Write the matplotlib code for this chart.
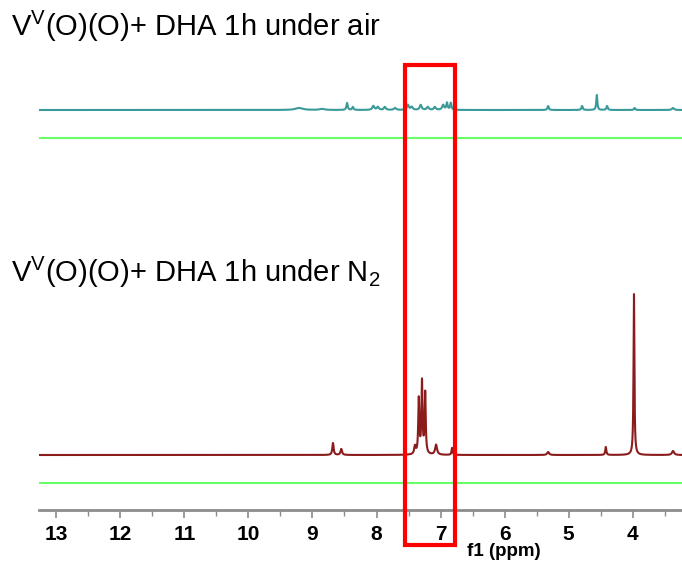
import numpy as np
import matplotlib
matplotlib.use('Agg')
import matplotlib.pyplot as plt
from matplotlib.patches import Rectangle
from matplotlib.ticker import MultipleLocator

plt.rcParams['font.family'] = ['Liberation Sans', 'DejaVu Sans']
plt.rcParams['mathtext.fontset'] = 'custom'
plt.rcParams['mathtext.rm'] = 'Liberation Sans'

# peak lists: position (ppm), height, half width (ppm)
air_ppm    = [9.21, 8.85, 8.46, 8.37, 8.05, 7.98, 7.87, 7.71, 7.51, 7.45, 7.31, 7.20, 7.09, 6.96, 6.90, 6.84, 5.32, 4.79, 4.56, 4.40, 3.97, 3.37]
air_height = [2,    1,    7,    3,    4,    3,    3,    2,    5,    3,    5,    3,    3,    5,    7,    7,    4,    4,    15,   4,    2,    2]
air_width  = [0.07, 0.05, 0.012,0.012,0.018,0.018,0.018,0.02, 0.018,0.018,0.018,0.018,0.018,0.018,0.012,0.012,0.012,0.012,0.01, 0.012,0.012,0.02]

n2_ppm    = [8.68, 8.55, 7.40, 7.34, 7.29, 7.24, 7.07, 6.82, 5.32, 4.42, 3.98, 3.37]
n2_height = [12,   6,    8,    55,   72,   61,   10,   7,    3,    8,    161,  4]
n2_width  = [0.012,0.014,0.014,0.01, 0.01, 0.01, 0.018,0.01, 0.018,0.01, 0.008,0.02]

titles = [r'V$^{\mathrm{V}}$(O)(O)+ DHA 1h under air',
          r'V$^{\mathrm{V}}$(O)(O)+ DHA 1h under N$_{2}$']

x_left, x_right = 13.27, 3.23
ppm = np.linspace(x_left, x_right, 6000)

def spectrum(pos, h, w):
    y = np.zeros_like(ppm)
    for p, a, g in zip(pos, h, w):
        y += a * g**2 / ((ppm - p)**2 + g**2)
    return y

fig = plt.figure(figsize=(6.82, 5.62), dpi=100)
ax = fig.add_axes([39/682, 52/562, 643/682, 510/562])
ax.set_xlim(x_left, x_right)
ax.set_ylim(0, 510)

# offsets of each trace (same units as heights)
ax.plot(ppm, 400 + spectrum(air_ppm, air_height, air_width), color='#3a9a9a', lw=1.5)
ax.axhline(372, color='#66ff66', lw=1.5)
ax.plot(ppm, 55 + spectrum(n2_ppm, n2_height, n2_width), color='#8b1c1c', lw=1.5)
ax.axhline(27, color='#66ff66', lw=1.5)

ax.add_patch(Rectangle((7.56, -35), 6.78 - 7.56, 480, fill=False,
                       edgecolor='#ff0000', lw=3, clip_on=False, zorder=5))

for s in ['top', 'left', 'right']:
    ax.spines[s].set_visible(False)
ax.spines['bottom'].set_color('#8c8c8c')
ax.spines['bottom'].set_linewidth(2)
ax.set_yticks([])
ax.xaxis.set_major_locator(MultipleLocator(1))
ax.xaxis.set_minor_locator(MultipleLocator(0.5))
ax.tick_params(axis='x', which='major', length=6, width=1.2, color='#8c8c8c', pad=5)
ax.tick_params(axis='x', which='minor', length=4, width=1, color='#8c8c8c')
ax.set_xticks(range(13, 3, -1))
ax.set_xticklabels([str(v) for v in range(13, 3, -1)],
                   fontsize=15, fontweight='bold')

fig.text(504/682, 1 - 552/562, 'f1 (ppm)', fontsize=13.5, fontweight='bold',
         ha='center', va='center')
fig.text(11/682, 1 - 26/562, titles[0], fontsize=21, va='center', ha='left')
fig.text(11/682, 1 - 272/562, titles[1], fontsize=21, va='center', ha='left')

fig.savefig('out.png', dpi=100)
